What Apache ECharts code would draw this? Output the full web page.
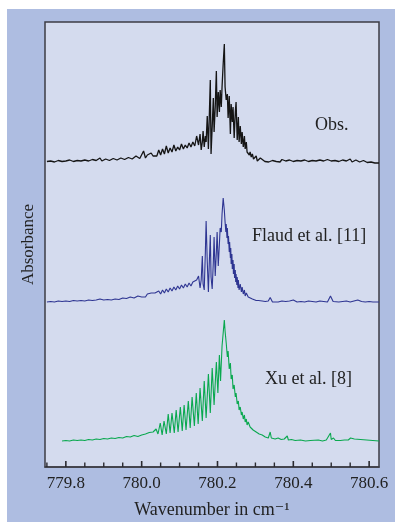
<!DOCTYPE html>
<html>
<head>
<meta charset="utf-8">
<script src="https://cdn.jsdelivr.net/npm/echarts@6/dist/echarts.min.js"></script>
<style>
  body { margin: 0; background: #fff; }
  #main { width: 395px; height: 527px; }
</style>
</head>
<body>
<div id="main"></div>
<script>
// wavenumber (cm-1) / absorbance (arb. units)
var obsData = [
  [779.75,0.005],[779.755,0.015],[779.76,0.01],[779.765,-0.005],[779.77,0],[779.775,0.01],[779.78,0.015],[779.785,0],
  [779.79,0.005],[779.795,0.015],[779.80,0.01],[779.805,0.005],[779.81,0.02],[779.815,0.01],[779.82,0.005],[779.825,0.02],
  [779.83,0.015],[779.835,0.005],[779.84,0.01],[779.845,0.025],[779.85,0.02],[779.855,0.005],[779.86,0.01],[779.865,0.02],
  [779.87,0.025],[779.875,0.01],[779.88,0.015],[779.885,0.02],[779.89,0.04],[779.895,0.01],[779.90,0.015],[779.905,0.03],
  [779.91,0.025],[779.915,0.015],[779.92,0.02],[779.925,0.035],[779.93,0.03],[779.935,0.02],[779.94,0.025],[779.945,0.04],
  [779.95,0.04],[779.955,0.025],[779.96,0.03],[779.965,0.045],[779.97,0.05],[779.975,0.03],[779.98,0.035],[779.985,0.06],
  [779.99,0.05],[779.995,0.035],[780.00,0.04],[780.005,0.11],[780.010,0.04],[780.015,0.07],[780.020,0.05],[780.025,0.09],
  [780.030,0.06],[780.035,0.08],[780.040,0.06],[780.045,0.12],[780.050,0.07],[780.055,0.13],[780.060,0.08],[780.065,0.16],
  [780.070,0.09],[780.075,0.14],[780.080,0.10],[780.085,0.17],[780.090,0.11],[780.095,0.15],[780.100,0.12],[780.105,0.18],
  [780.110,0.13],[780.115,0.17],[780.120,0.14],[780.125,0.19],[780.130,0.15],[780.135,0.20],[780.140,0.16],[780.145,0.26],
  [780.150,0.17],[780.152,0.16],[780.154,0.28],[780.157,0.12],[780.160,0.20],[780.162,0.31],[780.165,0.15],[780.168,0.26],
  [780.170,0.20],[780.173,0.46],[780.176,0.13],[780.178,0.40],[780.181,0.82],[780.183,0.08],[780.186,0.35],[780.189,0.64],
  [780.191,0.30],[780.194,0.55],[780.197,0.91],[780.199,0.45],[780.202,0.70],[780.205,0.50],[780.207,0.72],[780.210,0.55],
  [780.212,0.75],[780.215,0.98],[780.218,1.18],[780.220,0.75],[780.223,0.62],[780.226,0.68],[780.228,0.44],[780.231,0.66],
  [780.234,0.28],[780.236,0.58],[780.239,0.40],[780.241,0.55],[780.244,0.24],[780.247,0.50],[780.249,0.60],[780.252,0.22],
  [780.255,0.45],[780.257,0.20],[780.260,0.36],[780.263,0.18],[780.265,0.30],[780.268,0.15],[780.271,0.26],[780.273,0.13],
  [780.276,0.20],[780.278,0.10],[780.281,0.12],[780.284,0.07],[780.286,0.10],[780.289,0.05],[780.292,0.08],[780.295,0.03],
  [780.297,0.05],[780.300,0.02],[780.302,0.06],[780.305,0.01],[780.308,0.03],[780.310,0.015],[780.313,0.04],[780.318,0.02],
  [780.325,0.005],[780.33,0.02],[780.335,0],[780.34,0.005],[780.345,0.015],[780.35,0.02],[780.355,0.005],[780.36,0.01],
  [780.365,0],[780.37,0.025],[780.375,0.005],[780.38,0.01],[780.385,0.02],[780.39,0.02],[780.395,0],[780.40,0.005],
  [780.405,0.015],[780.41,0.015],[780.415,0],[780.42,0.01],[780.425,0.02],[780.43,0.02],[780.435,0.005],[780.44,0.005],
  [780.445,0.02],[780.45,0.015],[780.455,0],[780.46,0.01],[780.465,0.02],[780.47,0.02],[780.475,0.005],[780.48,0.01],
  [780.485,0],[780.49,0.025],[780.495,0.005],[780.50,0.01],[780.505,0.02],[780.51,0.015],[780.515,0],[780.52,0.005],
  [780.525,0.015],[780.53,0.02],[780.535,0.005],[780.54,0.01],[780.545,0.015],[780.55,0.03],[780.555,0],[780.56,0.01],
  [780.565,0.02],[780.57,0.02],[780.575,0],[780.58,0.005],[780.585,0.015],[780.59,0.015],[780.595,-0.005],[780.60,0.01],
  [780.605,0],[780.61,0],[780.615,-0.01],[780.62,0.01],[780.626,-0.01]
];

var flaudData = [
  [779.75,0],[779.76,0.005],[779.77,0],[779.78,0.01],[779.79,0.005],[779.80,0.01],[779.81,0.005],[779.82,0.015],
  [779.83,0.01],[779.84,0.015],[779.85,0.01],[779.86,0.02],[779.87,0.015],[779.88,0.02],[779.89,0.03],[779.90,0.02],
  [779.91,0.025],[779.92,0.02],[779.93,0.03],[779.94,0.025],[779.95,0.04],[779.96,0.035],[779.97,0.05],[779.98,0.04],
  [779.99,0.06],[780.00,0.05],[780.005,0.07],[780.010,0.05],[780.015,0.08],[780.020,0.06],[780.025,0.09],[780.030,0.07],
  [780.035,0.09],[780.040,0.08],[780.045,0.11],[780.050,0.08],[780.055,0.12],[780.060,0.09],[780.065,0.13],[780.070,0.10],
  [780.075,0.14],[780.080,0.11],[780.085,0.15],[780.090,0.12],[780.095,0.16],[780.100,0.13],[780.105,0.17],[780.110,0.14],
  [780.115,0.18],[780.120,0.15],[780.125,0.19],[780.130,0.16],[780.135,0.20],[780.140,0.18],[780.145,0.22],[780.150,0.26],
  [780.152,0.24],[780.154,0.14],[780.157,0.22],[780.160,0.46],[780.162,0.18],[780.165,0.12],[780.168,0.50],[780.170,0.81],
  [780.173,0.40],[780.176,0.10],[780.178,0.35],[780.181,0.67],[780.183,0.25],[780.186,0.13],[780.189,0.40],[780.191,0.65],
  [780.194,0.26],[780.197,0.50],[780.199,0.70],[780.202,0.36],[780.205,0.58],[780.207,0.74],[780.210,0.70],[780.212,0.88],
  [780.215,1.04],[780.218,0.92],[780.220,0.80],[780.222,0.70],[780.223,0.78],[780.225,0.64],[780.226,0.74],[780.228,0.58],
  [780.229,0.66],[780.231,0.50],[780.232,0.60],[780.234,0.44],[780.235,0.54],[780.236,0.38],[780.238,0.48],[780.239,0.33],
  [780.241,0.42],[780.242,0.28],[780.244,0.38],[780.245,0.24],[780.247,0.32],[780.248,0.20],[780.249,0.28],[780.251,0.17],
  [780.252,0.25],[780.254,0.14],[780.255,0.22],[780.257,0.12],[780.260,0.18],[780.263,0.10],[780.265,0.15],[780.268,0.08],
  [780.271,0.12],[780.273,0.06],[780.276,0.09],[780.281,0.05],[780.286,0.05],[780.292,0.03],[780.297,0.03],[780.302,0.015],
  [780.308,0.015],[780.313,0.005],[780.318,0.01],[780.326,0.005],[780.334,0.01],[780.339,0.045],[780.345,0],[780.35,0.005],
  [780.36,0],[780.37,0.01],[780.38,0.005],[780.39,0.01],[780.40,0.02],[780.41,0],[780.42,0.005],[780.43,0],
  [780.44,0.01],[780.45,0.005],[780.46,0],[780.47,0.01],[780.48,0.005],[780.49,0],[780.498,0.06],[780.505,0.005],
  [780.51,0.01],[780.52,0],[780.53,0.005],[780.54,0.01],[780.55,0],[780.56,0.01],[780.57,0.02],[780.58,0.005],
  [780.59,0],[780.60,0.005],[780.61,0],[780.626,0]
];

var xuData = [
  [779.79,0],[779.80,0.005],[779.81,0],[779.82,0.01],[779.83,0.005],[779.84,0.01],[779.85,0.005],[779.86,0.015],
  [779.87,0.01],[779.88,0.02],[779.89,0.015],[779.90,0.025],[779.91,0.02],[779.92,0.03],[779.93,0.025],[779.94,0.035],
  [779.95,0.03],[779.96,0.045],[779.97,0.04],[779.98,0.055],[779.99,0.045],[780.00,0.06],[780.005,0.05],[780.010,0.07],
  [780.015,0.06],[780.020,0.085],[780.025,0.065],[780.030,0.09],[780.035,0.07],[780.038,0.12],[780.043,0.07],[780.049,0.18],
  [780.054,0.06],[780.059,0.20],[780.065,0.07],[780.070,0.27],[780.075,0.08],[780.080,0.28],[780.086,0.08],[780.091,0.31],
  [780.096,0.09],[780.102,0.34],[780.107,0.10],[780.112,0.36],[780.117,0.11],[780.123,0.40],[780.128,0.13],[780.133,0.44],
  [780.139,0.15],[780.144,0.48],[780.149,0.17],[780.154,0.53],[780.160,0.20],[780.165,0.60],[780.170,0.23],[780.176,0.67],
  [780.181,0.28],[780.186,0.73],[780.191,0.36],[780.197,0.79],[780.201,0.48],[780.205,0.86],[780.208,0.60],[780.212,0.95],
  [780.218,1.21],[780.220,1.10],[780.223,0.98],[780.226,0.84],[780.228,0.90],[780.231,0.72],[780.234,0.78],[780.236,0.62],
  [780.239,0.66],[780.241,0.52],[780.244,0.56],[780.247,0.44],[780.249,0.48],[780.252,0.37],[780.255,0.40],[780.257,0.31],
  [780.260,0.34],[780.263,0.26],[780.265,0.29],[780.268,0.22],[780.271,0.26],[780.273,0.19],[780.276,0.22],[780.278,0.16],
  [780.281,0.19],[780.286,0.14],[780.289,0.16],[780.294,0.11],[780.297,0.13],[780.302,0.09],[780.305,0.11],[780.310,0.07],
  [780.313,0.09],[780.318,0.06],[780.321,0.07],[780.326,0.04],[780.329,0.05],[780.334,0.03],[780.339,0.09],[780.342,0.03],
  [780.347,0.04],[780.352,0.02],[780.360,0.03],[780.368,0.015],[780.376,0.02],[780.384,0.05],[780.387,0.01],[780.395,0.015],
  [780.405,0.005],[780.419,0.01],[780.432,0],[780.445,0.005],[780.466,0.01],[780.477,0],[780.487,0.01],[780.498,0.08],
  [780.500,0.015],[780.506,0.03],[780.511,0.005],[780.524,0.005],[780.535,0.01],[780.540,0.025],[780.545,0.01],[780.551,0.03],
  [780.556,0.015],[780.561,0.02],[780.566,0],[780.626,0]
];

var majorTicks = [779.8, 780.0, 780.2, 780.4, 780.6];
var minorTicks = [779.75, 779.85, 779.9, 779.95, 780.05, 780.1, 780.15, 780.25, 780.3, 780.35, 780.45, 780.5, 780.55];

var serif = '"Liberation Serif", "DejaVu Serif", serif';
var xMin = 779.745, xMax = 780.626;

// tick marks: thin bars standing on the bottom edge (value 0 of the base axis)
function tickSeries(name, values, w, h) {
    return {
        name: name, type: 'scatter', yAxisIndex: 3, silent: true, clip: false, z: 20,
        symbol: 'rect', symbolSize: [w, h], symbolOffset: [0, -h / 2],
        itemStyle: { color: '#2a2a30', opacity: 1 },
        data: values.map(function (v) { return [v, 0]; })
    };
}

var chart = echarts.init(document.getElementById('main'));
var option = {
    animation: false,
    backgroundColor: '#ffffff',
    graphic: [
        { type: 'rect', z: -10, silent: true, shape: { x: 7, y: 9, width: 388, height: 513 }, style: { fill: '#aebde1' } },
        { type: 'text', x: 315, y: 125, style: { text: 'Obs.', font: '18px ' + serif, fill: '#222', verticalAlign: 'middle' } },
        { type: 'text', x: 252, y: 236, style: { text: 'Flaud et al. [11]', font: '18px ' + serif, fill: '#222', verticalAlign: 'middle' } },
        { type: 'text', x: 265, y: 379, style: { text: 'Xu et al. [8]', font: '18px ' + serif, fill: '#222', verticalAlign: 'middle' } }
    ],
    grid: {
        z: -5,
        left: 45, right: 16, top: 22, bottom: 60,
        show: true,
        backgroundColor: '#d4dbee',
        borderColor: '#3c3c44',
        borderWidth: 1.5
    },
    xAxis: {
        type: 'value', min: xMin, max: xMax,
        name: 'Wavenumber in cm\u207B\u00B9',
        nameLocation: 'middle', nameGap: 34,
        nameTextStyle: { fontFamily: serif, fontSize: 18, color: '#222' },
        axisLine: { show: true, onZero: false, lineStyle: { color: '#3c3c44', width: 1.5 } },
        axisTick: { show: false },
        axisLabel: {
            customValues: majorTicks, margin: 8,
            fontFamily: serif, fontSize: 17, color: '#222',
            formatter: function (v) { return v.toFixed(1); }
        },
        splitLine: { show: false }
    },
    yAxis: [
        {
            type: 'value', min: -3.05, max: 1.40,
            name: 'Absorbance', nameLocation: 'middle', nameGap: 8, nameRotate: 90,
            nameTextStyle: { fontFamily: serif, fontSize: 17, color: '#222' },
            axisLine: { show: false }, axisTick: { show: false }, axisLabel: { show: false }, splitLine: { show: false }
        },
        { type: 'value', min: -1.65, max: 2.80, show: false },
        { type: 'value', min: -0.26, max: 4.19, show: false },
        { type: 'value', min: 0, max: 1, show: false }
    ],
    series: [
        {
            name: 'Obs.', type: 'line', yAxisIndex: 0,
            data: obsData, showSymbol: false, lineStyle: { color: '#151515', width: 1.3 }
        },
        {
            name: 'Flaud et al. [11]', type: 'line', yAxisIndex: 1,
            data: flaudData, showSymbol: false, lineStyle: { color: '#2e3592', width: 1.1 }
        },
        {
            name: 'Xu et al. [8]', type: 'line', yAxisIndex: 2,
            data: xuData, showSymbol: false, lineStyle: { color: '#0aa84f', width: 1.1 }
        },
        tickSeries('major ticks', majorTicks, 1.6, 6),
        tickSeries('minor ticks', minorTicks, 1.4, 4.5)
    ]
};
chart.setOption(option);
</script>
</body>
</html>
